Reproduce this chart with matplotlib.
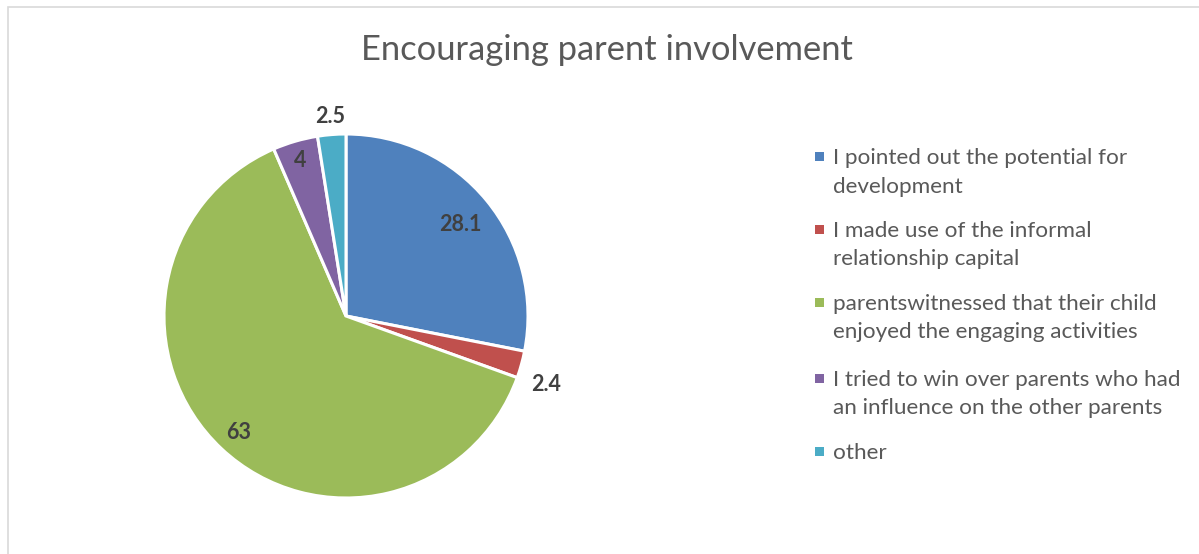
import numpy as np
import matplotlib.pyplot as plt
from matplotlib.patches import Rectangle

# values (percent)
categories = [
    "I pointed out the potential for\ndevelopment",
    "I made use of the informal\nrelationship capital",
    "parentswitnessed that their child\nenjoyed the engaging activities",
    "I tried to win over parents who had\nan influence on the other parents",
    "other",
]
values = [28.1, 2.4, 63, 4, 2.5]
value_labels = ["28.1", "2.4", "63", "4", "2.5"]
colors = ["#4F81BD", "#C0504D", "#9BBB59", "#8064A2", "#4BACC6"]

plt.rcParams['font.family'] = ['Lato', 'DejaVu Sans']

W, H = 1199, 554
fig = plt.figure(figsize=(W / 100, H / 100), dpi=100)

# chart frame (only left and top edges visible in the original)
fig.patches.append(Rectangle((8 / W, -0.1), 1.2, 1.1 - 7 / H, transform=fig.transFigure,
                             fill=False, edgecolor="#D9D9D9", linewidth=1.2))

fig.text(607 / W, 1 - 50 / H, "Encouraging parent involvement", ha="center", va="center",
         fontsize=24.8, color="#595959")

# pie
cx, cy, r = 346, 316, 182
ax = fig.add_axes([(cx - r) / W, (H - cy - r) / H, 2 * r / W, 2 * r / H])
wedges, _ = ax.pie(values, colors=colors, startangle=90, counterclock=False, radius=1,
                   wedgeprops=dict(edgecolor="white", linewidth=2.2))
ax.set_xlim(-1, 1)
ax.set_ylim(-1, 1)
ax.axis("off")

# label distance from centre (in radii) and small angle nudge (deg)
label_dist = [0.81, 1.16, 0.86, 0.90, 1.11]
label_nudge = [0, -3, 0, 0, 0]
for w, lab, d, nd in zip(wedges, value_labels, label_dist, label_nudge):
    ang = np.deg2rad((w.theta1 + w.theta2) / 2 + nd)
    ax.text(d * np.cos(ang), d * np.sin(ang), lab, ha="center", va="center_baseline",
            fontsize=15.5, fontweight="bold", color="#404040", clip_on=False)

# legend drawn by hand so the marker sits on the first text line
leg_y = [156, 229, 302, 378, 451]
line_h = 28.5
for c, lab, y in zip(colors, categories, leg_y):
    fig.patches.append(Rectangle((815 / W, 1 - (y + 4.5) / H), 9 / W, 9 / H,
                                 transform=fig.transFigure, facecolor=c, edgecolor="none"))
    for k, line in enumerate(lab.split("\n")):
        fig.text(833 / W, 1 - (y + 8 + k * line_h) / H, line, ha="left", va="baseline",
                 fontsize=16.2, color="#595959")

fig.savefig("out.png", dpi=100)
